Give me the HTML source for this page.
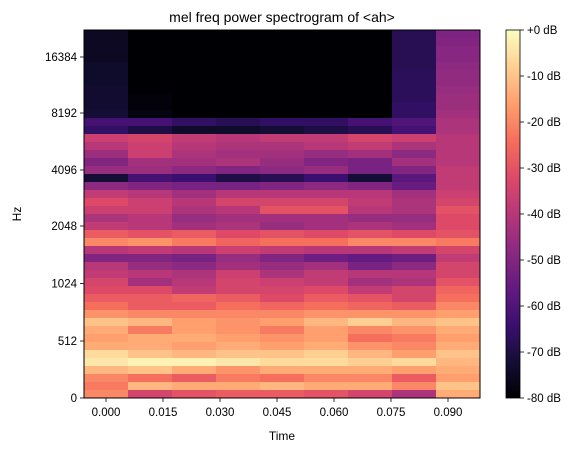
<!DOCTYPE html>
<html><head><meta charset="utf-8"><style>
body{margin:0;background:#fff;}
svg text{font-family:"Liberation Sans","DejaVu Sans",sans-serif;fill:#000;}
</style></head><body>
<svg id="chart" width="588" height="453" viewBox="0 0 588 453" xmlns="http://www.w3.org/2000/svg">
<text x="282" y="22" font-size="14" text-anchor="middle">mel freq power spectrogram of &lt;ah&gt;</text>
<g id="cells"></g>
<rect x="84" y="30" width="396" height="368" fill="none" stroke="#000" stroke-width="1"/>
<g id="xaxis"></g>
<g id="yaxis"></g>
<text x="282" y="440" font-size="12" text-anchor="middle">Time</text>
<text x="21" y="214" font-size="12" text-anchor="middle" transform="rotate(-90 21 214)">Hz</text>
<defs><linearGradient id="cbg" x1="0" y1="1" x2="0" y2="0"></linearGradient></defs>
<rect x="506" y="30" width="14" height="368" fill="url(#cbg)" stroke="#000" stroke-width="0.8"/>
<g id="cbaxis"></g>
</svg>
<script>
const xTicks = ["0.000","0.015","0.030","0.045","0.060","0.075","0.090"];
const yTicks = ["0","512","1024","2048","4096","8192","16384"];
const cbTicks = ["+0 dB","-10 dB","-20 dB","-30 dB","-40 dB","-50 dB","-60 dB","-70 dB","-80 dB"];
const nCols = 9;
const dbRows = [
[-75,-80,-80,-80,-80,-80,-80,-68,-51],
[-75,-80,-80,-80,-80,-80,-80,-68,-50],
[-75,-80,-80,-80,-80,-80,-80,-68,-49],
[-75,-80,-80,-80,-80,-80,-80,-68,-49],
[-74,-80,-80,-80,-80,-80,-80,-68,-48],
[-74,-80,-80,-80,-80,-80,-80,-67,-47],
[-74,-80,-80,-80,-80,-80,-80,-67,-47],
[-73,-80,-80,-80,-80,-80,-80,-67,-46],
[-73,-79,-80,-80,-80,-80,-80,-67,-45],
[-73,-79,-80,-80,-80,-80,-80,-66,-45],
[-72,-78,-80,-80,-80,-80,-80,-66,-44],
[-62,-62,-66,-68,-66,-66,-62,-60,-42],
[-66,-70,-74,-74,-72,-70,-68,-62,-42],
[-36,-34,-38,-40,-38,-38,-34,-36,-40],
[-40,-36,-40,-42,-42,-40,-38,-42,-40],
[-45,-36,-42,-44,-44,-46,-44,-48,-40],
[-50,-44,-44,-42,-46,-50,-52,-44,-40],
[-46,-45,-48,-50,-48,-46,-52,-50,-38],
[-72,-62,-64,-70,-68,-64,-72,-58,-38],
[-48,-50,-52,-52,-50,-48,-50,-55,-38],
[-38,-40,-44,-40,-40,-40,-40,-44,-36],
[-32,-36,-40,-34,-34,-34,-38,-42,-34],
[-36,-36,-42,-40,-30,-30,-40,-42,-30],
[-42,-40,-46,-44,-44,-44,-46,-46,-32],
[-38,-40,-44,-42,-46,-44,-42,-44,-32],
[-28,-30,-28,-32,-30,-32,-30,-32,-30],
[-20,-18,-22,-26,-24,-24,-20,-20,-22],
[-40,-38,-40,-36,-38,-40,-40,-38,-34],
[-50,-50,-52,-46,-50,-54,-56,-54,-38],
[-40,-46,-48,-44,-46,-44,-52,-48,-34],
[-38,-40,-42,-36,-42,-38,-40,-40,-34],
[-34,-44,-40,-34,-36,-38,-44,-42,-30],
[-32,-32,-38,-34,-34,-32,-38,-34,-26],
[-28,-28,-26,-28,-32,-28,-30,-34,-24],
[-24,-28,-28,-24,-26,-24,-26,-28,-20],
[-18,-20,-20,-20,-20,-18,-18,-18,-16],
[-10,-12,-16,-18,-16,-12,-8,-12,-10],
[-14,-22,-16,-18,-22,-16,-20,-18,-14],
[-16,-14,-14,-16,-18,-16,-24,-22,-16],
[-14,-14,-16,-14,-16,-14,-18,-20,-14],
[-6,-10,-12,-10,-10,-8,-12,-16,-10],
[-4,-2,-2,-4,-6,-6,-8,-6,-12],
[-12,-10,-14,-18,-14,-14,-14,-16,-14],
[-20,-24,-28,-22,-24,-20,-20,-28,-16],
[-22,-12,-14,-14,-12,-14,-14,-20,-10],
[-20,-34,-30,-28,-28,-30,-34,-42,-14]
];
const NS="http://www.w3.org/2000/svg";
const L=84,R=480,T=30,B=398;
const magma=[[0,0,4],[20,14,54],[59,15,112],[100,26,128],[140,41,129],[183,55,121],[222,73,104],[246,110,92],[254,159,109],[254,207,146],[252,253,191]];
function cmap(db){let t=Math.max(0,Math.min(1,(db+80)/80))*10;let i=Math.min(9,Math.floor(t)),f=t-i;
const a=magma[i],b=magma[i+1];return `rgb(${a.map((v,k)=>Math.round(v+(b[k]-v)*f)).join(",")})`;}
const xScale=c=>L+(R-L)*c/nCols;
const yScale=r=>T+(B-T)*r/dbRows.length;
const cells=document.getElementById('cells');
dbRows.forEach((row,r)=>row.forEach((v,c)=>{
 const el=document.createElementNS(NS,'rect');
 el.setAttribute('x',xScale(c));el.setAttribute('y',yScale(r));
 el.setAttribute('width',xScale(c+1)-xScale(c)+0.5);el.setAttribute('height',yScale(r+1)-yScale(r)+0.5);
 el.setAttribute('fill',cmap(v));
 
 
 cells.appendChild(el);
}));
function line(g,x1,y1,x2,y2){const l=document.createElementNS(NS,'line');l.setAttribute('x1',x1);l.setAttribute('y1',y1);l.setAttribute('x2',x2);l.setAttribute('y2',y2);l.setAttribute('stroke','#000');l.setAttribute('stroke-width','0.8');g.appendChild(l);}
function txt(g,x,y,s,anchor){const t=document.createElementNS(NS,'text');t.setAttribute('x',x);t.setAttribute('y',y);t.setAttribute('font-size','11.5');t.setAttribute('text-anchor',anchor);t.textContent=s;g.appendChild(t);return t;}
const xg=document.getElementById('xaxis');
xTicks.forEach((s,i)=>{const x=106+57*i;line(xg,x,B,x,B+4);
 const t=txt(xg,x,B+18,s,'middle');
 
 });
const yg=document.getElementById('yaxis');
const yPos=[398,341,283.5,226,170,113,57];
yTicks.forEach((s,i)=>{const y=yPos[i];line(yg,L-4,y,L,y);
 const t=txt(yg,L-7,y+4,s,'end');
 
 });
const grad=document.getElementById('cbg');
for(let i=0;i<=20;i++){const st=document.createElementNS(NS,'stop');st.setAttribute('offset',i/20);st.setAttribute('stop-color',cmap(-80+80*i/20));grad.appendChild(st);}
const cg=document.getElementById('cbaxis');
cbTicks.forEach((s,i)=>{const y=T+(B-T)*i/8;line(cg,520,y,524,y);
 const t=txt(cg,527,y+4,s,'start');
 
 });
</script>
</body></html>
